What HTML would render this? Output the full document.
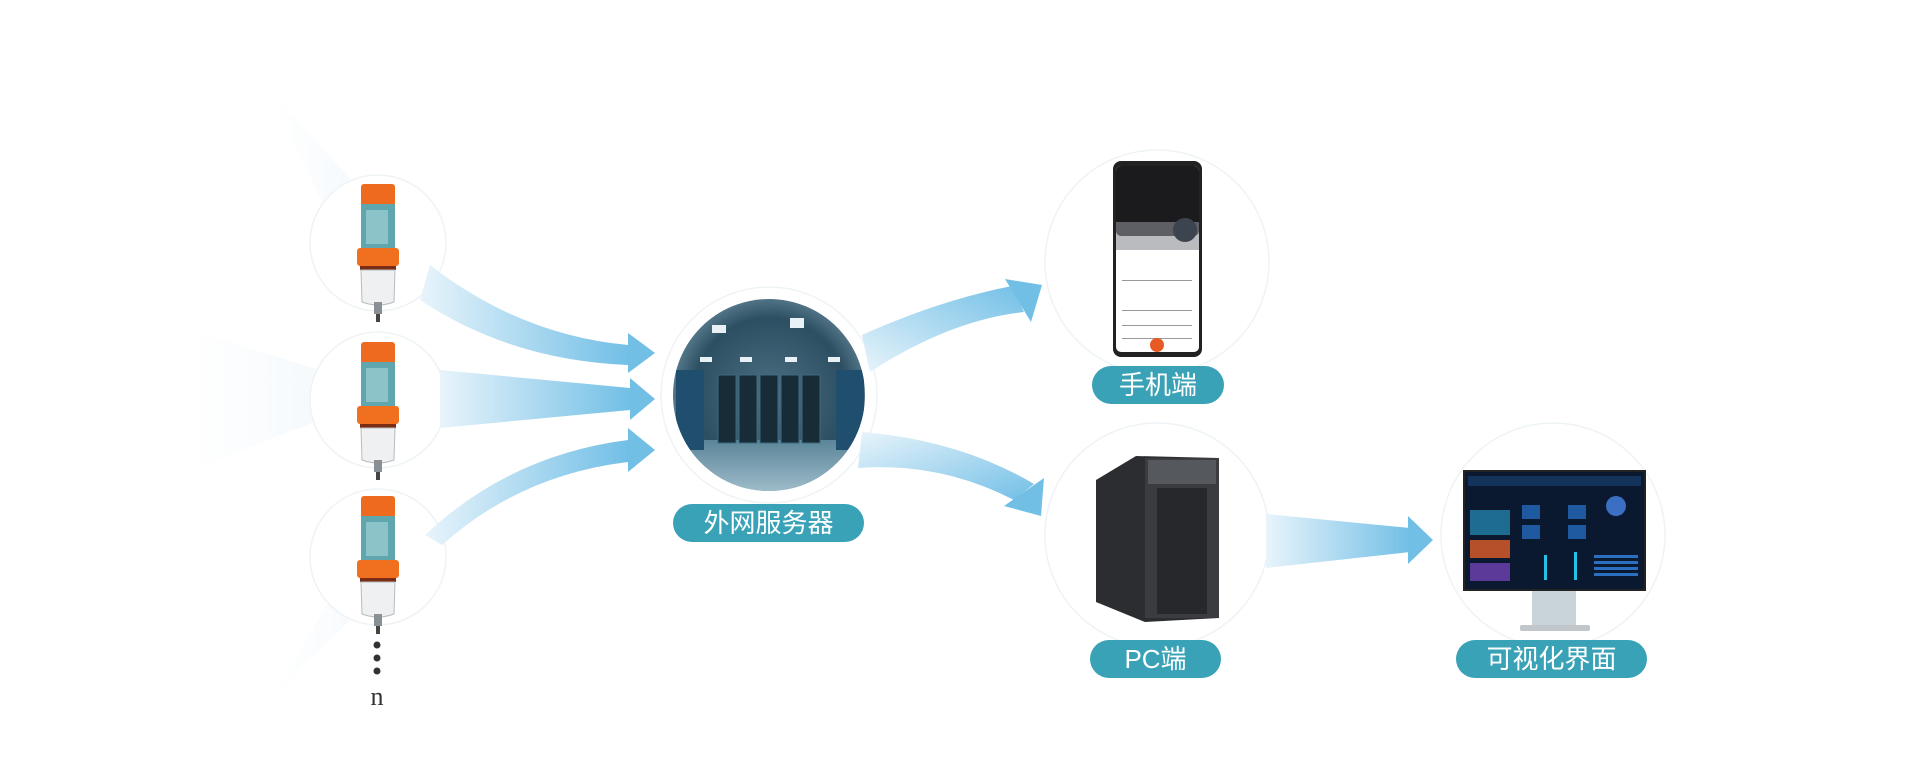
<!DOCTYPE html>
<html><head><meta charset="utf-8"><style>
html,body{margin:0;padding:0;background:#fff;}
body{width:1920px;height:772px;position:relative;overflow:hidden;font-family:"Liberation Sans","Noto Sans CJK SC",sans-serif;}
.pill{position:absolute;background:#3aa2b6;color:#fff;border-radius:20px;text-align:center;font-size:26px;line-height:38px;height:38px;}
</style></head><body>
<svg width="1920" height="772" style="position:absolute;left:0;top:0">
<defs>
<linearGradient id="ag" x1="0" y1="0" x2="1" y2="0"><stop offset="0" stop-color="#e8f4fb"/><stop offset="1" stop-color="#72bfe6"/></linearGradient>
<linearGradient id="agd" x1="0" y1="0" x2="1" y2="1"><stop offset="0" stop-color="#e8f4fb"/><stop offset="1" stop-color="#72bfe6"/></linearGradient>
<linearGradient id="agu" x1="0" y1="1" x2="1" y2="0"><stop offset="0" stop-color="#e8f4fb"/><stop offset="1" stop-color="#72bfe6"/></linearGradient>
<radialGradient id="srv" cx="0.5" cy="0.5" r="0.55"><stop offset="0" stop-color="#4d6f82"/><stop offset="0.7" stop-color="#2d4f62"/><stop offset="1" stop-color="#6b8ea0"/></radialGradient>
<linearGradient id="floor" x1="0" y1="0" x2="0" y2="1"><stop offset="0" stop-color="#5b8599"/><stop offset="1" stop-color="#a9c5d2"/></linearGradient>
<linearGradient id="bg1" x1="1" y1="0" x2="0" y2="0"><stop offset="0" stop-color="#f3f8fc"/><stop offset="1" stop-color="#fff"/></linearGradient>
<g id="dev">
 <rect x="-17" y="0" width="34" height="22" rx="3" fill="#ee6a1f"/>
 <rect x="-17" y="20" width="34" height="46" fill="#5fa6ae"/>
 <rect x="-12" y="26" width="22" height="34" fill="#9fd0d3" opacity="0.7"/>
 <rect x="-21" y="64" width="42" height="18" rx="3" fill="#f0701f"/>
 <rect x="-18" y="82" width="36" height="4" fill="#7a2d14"/>
 <path d="M-17 86 L17 86 L16 118 Q0 124 -16 118Z" fill="#eef0f1" stroke="#b7bcbf"/>
 <rect x="-4" y="118" width="8" height="12" fill="#8a8f93"/>
 <rect x="-2" y="130" width="4" height="8" fill="#444"/>
</g>
</defs>
<path d="M270 90 L360 190 L330 220Z" fill="url(#bg1)" opacity="0.8"/>
<path d="M190 330 L320 370 L320 420 L190 470Z" fill="url(#bg1)" opacity="0.8"/>
<path d="M270 700 L330 600 L350 620Z" fill="url(#bg1)" opacity="0.6"/>
<g fill="#fff" stroke="#eef3f6" stroke-width="1.5">
<circle cx="378" cy="243" r="68"/><circle cx="378" cy="400" r="68"/><circle cx="378" cy="557" r="68"/>
<circle cx="769" cy="395" r="108"/>
<circle cx="1157" cy="262" r="112"/><circle cx="1157" cy="535" r="112"/><circle cx="1553" cy="535" r="112"/>
</g>
<path d="M430 265 Q520 335 628 345 L628 365 Q510 360 420 300Z" fill="url(#ag)"/>
<path d="M628 333 L655 353 L628 373Z" fill="#72bfe6"/>
<path d="M440 370 L630 388 L630 410 L440 428Z" fill="url(#ag)"/>
<path d="M630 378 L655 399 L630 420Z" fill="#72bfe6"/>
<path d="M425 535 Q510 455 628 440 L628 462 Q520 475 442 545Z" fill="url(#ag)"/>
<path d="M628 428 L655 450 L628 472Z" fill="#72bfe6"/>
<path d="M862 335 Q940 300 1012 286 L1024 312 Q950 320 870 372Z" fill="url(#agu)"/>
<path d="M1005 279 L1042 285 L1031 322Z" fill="#72bfe6"/>
<path d="M862 432 Q960 440 1034 484 L1014 500 Q940 462 858 468Z" fill="url(#agd)"/>
<path d="M1044 478 L1041 516 L1004 506Z" fill="#72bfe6"/>
<path d="M1266 514 L1410 528 L1410 552 L1266 568Z" fill="url(#ag)"/>
<path d="M1408 516 L1433 540 L1408 564Z" fill="#72bfe6"/>
<use href="#dev" x="378" y="184"/><use href="#dev" x="378" y="342"/><use href="#dev" x="378" y="496"/>
<circle cx="377" cy="645" r="3.5" fill="#333"/><circle cx="377" cy="658" r="3.5" fill="#333"/><circle cx="377" cy="671" r="3.5" fill="#333"/>
<text x="377" y="705" font-family="Liberation Serif,serif" font-size="26" fill="#333" text-anchor="middle">n</text>
<clipPath id="sc"><circle cx="769" cy="395" r="96"/></clipPath>
<g clip-path="url(#sc)">
<rect x="670" y="295" width="200" height="200" fill="url(#srv)"/>
<rect x="670" y="440" width="200" height="60" fill="url(#floor)"/>
<g fill="#e8f2f6"><rect x="712" y="325" width="14" height="8"/><rect x="790" y="318" width="14" height="10"/><rect x="700" y="357" width="12" height="5"/><rect x="740" y="357" width="12" height="5"/><rect x="785" y="357" width="12" height="5"/><rect x="828" y="357" width="12" height="5"/></g>
<g fill="#182c38" stroke="#3d6a80"><rect x="718" y="375" width="18" height="68"/><rect x="739" y="375" width="18" height="68"/><rect x="760" y="375" width="18" height="68"/><rect x="781" y="375" width="18" height="68"/><rect x="802" y="375" width="18" height="68"/></g>
<rect x="676" y="370" width="28" height="80" fill="#1f4e6e"/><rect x="836" y="370" width="28" height="80" fill="#1f4e6e"/>
</g>
<rect x="1113" y="161" width="89" height="196" rx="8" fill="#222"/>
<rect x="1116" y="166" width="83" height="186" rx="5" fill="#fff"/>
<rect x="1116" y="166" width="83" height="70" rx="5" fill="#1b1b1e"/>
<rect x="1116" y="222" width="83" height="28" fill="#8a8d93" opacity="0.6"/>
<circle cx="1185" cy="230" r="12" fill="#3c4450"/>
<g fill="#999"><rect x="1122" y="280" width="70" height="1"/><rect x="1122" y="310" width="70" height="1"/><rect x="1122" y="325" width="70" height="1"/><rect x="1122" y="338" width="70" height="1"/></g>
<circle cx="1157" cy="345" r="7" fill="#e85a24"/>
<path d="M1096 480 L1136 456 L1219 458 L1219 618 L1145 622 L1096 602Z" fill="#2b2d30"/>
<rect x="1145" y="458" width="74" height="160" fill="#3a3c40"/>
<rect x="1157" y="488" width="50" height="126" fill="#26282b"/>
<rect x="1148" y="460" width="68" height="24" fill="#55585c"/>
<rect x="1532" y="590" width="44" height="38" fill="#c8d3da"/>
<rect x="1520" y="625" width="70" height="6" rx="2" fill="#c0c6ca"/>
<rect x="1464" y="471" width="181" height="119" fill="#0a1830" stroke="#222" stroke-width="2"/>
<rect x="1468" y="476" width="173" height="10" fill="#14335a"/>
<rect x="1470" y="510" width="40" height="25" fill="#1e6d90"/>
<rect x="1470" y="540" width="40" height="18" fill="#b5502a"/>
<rect x="1470" y="563" width="40" height="18" fill="#5c3a9a"/>
<rect x="1522" y="505" width="18" height="14" fill="#1f5aa0"/><rect x="1568" y="505" width="18" height="14" fill="#1f5aa0"/>
<rect x="1522" y="525" width="18" height="14" fill="#1f5aa0"/><rect x="1568" y="525" width="18" height="14" fill="#1f5aa0"/>
<circle cx="1616" cy="506" r="10" fill="#3a6fc4"/>
<g fill="#2a6fc0"><rect x="1594" y="555" width="44" height="3"/><rect x="1594" y="561" width="44" height="3"/><rect x="1594" y="567" width="44" height="3"/><rect x="1594" y="573" width="44" height="3"/></g>
<g fill="#26c2e6"><rect x="1544" y="555" width="3" height="25"/><rect x="1574" y="552" width="3" height="28"/></g>
</svg>
<div class="pill" style="left:673px;top:504px;width:191px;">外网服务器</div>
<div class="pill" style="left:1092px;top:366px;width:132px;">手机端</div>
<div class="pill" style="left:1090px;top:640px;width:131px;">PC端</div>
<div class="pill" style="left:1456px;top:640px;width:191px;">可视化界面</div>
</body></html>
